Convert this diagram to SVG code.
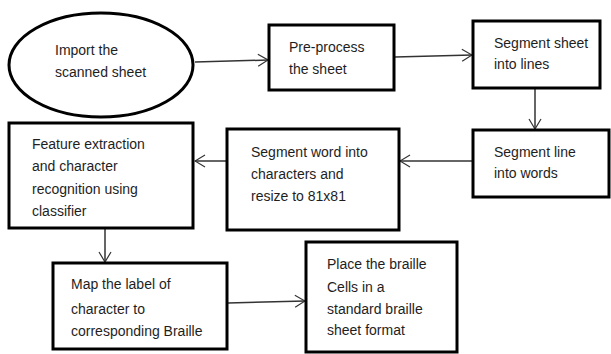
<svg xmlns="http://www.w3.org/2000/svg" width="611" height="354" viewBox="0 0 611 354">
<defs>
<marker id="ah" viewBox="0 0 12 14" refX="11" refY="7" markerWidth="12" markerHeight="14" markerUnits="userSpaceOnUse" orient="auto">
<path d="M1,1 L11,7 L1,13" fill="none" stroke="#333" stroke-width="1.2"/>
</marker>
<style>
.box{fill:#fff;stroke:#000;stroke-width:3}
.t{font-family:"Liberation Sans",Arial,sans-serif;font-size:14px;fill:#1e1e1e}
.c{fill:none;stroke:#333;stroke-width:1.5;marker-end:url(#ah)}
</style>
</defs>
<rect width="611" height="354" fill="#fff"/>
<g id="connectors">
<line class="c" x1="195" y1="62" x2="268" y2="60"/>
<line class="c" x1="395" y1="57" x2="472" y2="55"/>
<line class="c" x1="535" y1="89" x2="535" y2="129"/>
<line class="c" x1="472" y1="161" x2="400" y2="161"/>
<line class="c" x1="226" y1="161" x2="195" y2="161"/>
<line class="c" x1="105" y1="229" x2="105" y2="262"/>
<line class="c" x1="228" y1="303" x2="305" y2="301"/>
</g>
<g id="n1">
<ellipse class="box" cx="101" cy="65" rx="92" ry="52"/>
<text class="t" x="55" y="55">Import the</text>
<text class="t" x="55" y="77">scanned sheet</text>
</g>
<g id="n2">
<rect class="box" x="269" y="25" width="125" height="65"/>
<text class="t" x="289" y="52">Pre-process</text>
<text class="t" x="289" y="74">the sheet</text>
</g>
<g id="n3">
<rect class="box" x="473" y="21" width="127" height="67"/>
<text class="t" x="494" y="48">Segment sheet</text>
<text class="t" x="494" y="69">into lines</text>
</g>
<g id="n4">
<rect class="box" x="473" y="130" width="136" height="67"/>
<text class="t" x="494" y="157">Segment line</text>
<text class="t" x="494" y="178">into words</text>
</g>
<g id="n5">
<rect class="box" x="227" y="129" width="172" height="101"/>
<text class="t" x="251" y="157">Segment word into</text>
<text class="t" x="251" y="179">characters and</text>
<text class="t" x="251" y="201">resize to 81x81</text>
</g>
<g id="n6">
<rect class="box" x="9" y="123" width="184" height="105"/>
<text class="t" x="32" y="149">Feature extraction</text>
<text class="t" x="32" y="171">and character</text>
<text class="t" x="32" y="194">recognition using</text>
<text class="t" x="32" y="216">classifier</text>
</g>
<g id="n7">
<rect class="box" x="53" y="263" width="174" height="86"/>
<text class="t" x="71" y="289">Map the label of</text>
<text class="t" x="71" y="314">character to</text>
<text class="t" x="71" y="336">corresponding Braille</text>
</g>
<g id="n8">
<rect class="box" x="306" y="242" width="151" height="110"/>
<text class="t" x="327" y="269">Place the braille</text>
<text class="t" x="327" y="292">Cells in a</text>
<text class="t" x="327" y="314">standard braille</text>
<text class="t" x="327" y="335">sheet format</text>
</g>
</svg>
